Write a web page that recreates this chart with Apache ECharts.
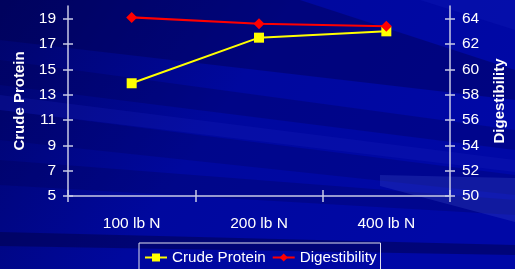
<!DOCTYPE html>
<html>
<head>
<meta charset="utf-8">
<script src="https://cdn.jsdelivr.net/npm/echarts@6/dist/echarts.min.js"></script>
<style>
html,body{margin:0;padding:0;background:#0006a0;}
#c{width:515px;height:269px;}
</style>
</head>
<body>
<div id="c"></div>
<script>
const categories = ['100 lb N', '200 lb N', '400 lb N'];
const crudeProtein = [13.9, 17.5, 18.0];
const digestibility = [64.1, 63.6, 63.4];
const leftTicks = [5, 7, 9, 11, 13, 15, 17, 19];
const rightTicks = [50, 52, 54, 56, 58, 60, 62, 64];
const leftAxisName = 'Crude Protein';
const rightAxisName = 'Digestibility';

const FONT = '"Liberation Sans", Arial, sans-serif';
const FS = 15.5;
const AXIS_COLOR = '#c8cae6';
const chart = echarts.init(document.getElementById('c'), null, {renderer: 'canvas'});

function streak(points, color, opacity) {
  return {type: 'polygon', silent: true, z: -10, shape: {points: points},
          style: {fill: color, opacity: opacity}};
}

const tickStyle = {color: AXIS_COLOR, width: 1.5};

const option = {
  animation: false,
  backgroundColor: {
    type: 'linear', x: 0, y: 0, x2: 0.8, y2: 1,
    colorStops: [
      {offset: 0, color: '#00046a'},
      {offset: 0.5, color: '#00089e'},
      {offset: 1, color: '#0008a6'}
    ]
  },
  graphic: [
    streak([[0,0],[300,0],[515,70],[515,100],[0,40]], '#00004a', 0.4),
    streak([[0,60],[515,130],[515,150],[0,85]], '#00004a', 0.28),
    streak([[0,110],[515,175],[515,195],[0,140]], '#00004a', 0.22),
    streak([[0,160],[515,200],[515,215],[0,185]], '#00004a', 0.25),
    streak([[0,232],[515,245],[515,255],[0,246]], '#000040', 0.45),
    streak([[0,95],[515,160],[515,172],[0,110]], '#1a24c0', 0.22),
    streak([[380,175],[515,178],[515,222],[380,186]], '#3848c8', 0.3),
    streak([[420,0],[515,0],[515,30]], '#0a14b0', 0.5)
  ],
  textStyle: {fontFamily: FONT},
  legend: {
    left: 139, top: 243,
    itemWidth: 22, itemHeight: 10, itemGap: 6,
    padding: [7, 4, 8, 5],
    borderColor: '#e0e0f0', borderWidth: 1,
    textStyle: {color: '#ffffff', fontSize: 15.2, fontFamily: FONT}
  },
  grid: {left: 68, right: 60, top: 6, bottom: 73, containLabel: false},
  xAxis: [
    {
      type: 'category', data: categories, boundaryGap: true,
      axisLine: {lineStyle: {color: AXIS_COLOR, width: 1.5}},
      axisTick: {show: false},
      axisLabel: {color: '#ffffff', fontSize: FS, margin: 20, fontFamily: FONT},
      splitLine: {show: false}
    },
    {
      type: 'category', data: categories, boundaryGap: true, position: 'bottom', offset: -6,
      axisLine: {show: false},
      axisTick: {show: true, length: 12, lineStyle: tickStyle},
      axisLabel: {show: false}, splitLine: {show: false}
    }
  ],
  yAxis: [
    {
      type: 'value', min: 5, max: 20, position: 'left',
      name: leftAxisName, nameLocation: 'middle', nameGap: 40, nameRotate: 90,
      nameTextStyle: {color: '#ffffff', fontSize: 15, fontWeight: 'bold', fontFamily: FONT},
      axisLine: {show: true, lineStyle: {color: AXIS_COLOR, width: 1.5}},
      axisTick: {show: false},
      axisLabel: {color: '#ffffff', fontSize: FS, margin: 12, fontFamily: FONT, customValues: leftTicks},
      splitLine: {show: false}
    },
    {
      type: 'value', min: 50, max: 65, position: 'right',
      name: rightAxisName, nameLocation: 'middle', nameGap: 42, nameRotate: 90,
      nameTextStyle: {color: '#ffffff', fontSize: 15, fontWeight: 'bold', fontFamily: FONT},
      axisLine: {show: true, lineStyle: {color: AXIS_COLOR, width: 1.5}},
      axisTick: {show: false},
      axisLabel: {color: '#ffffff', fontSize: FS, margin: 12, fontFamily: FONT, customValues: rightTicks},
      splitLine: {show: false}
    },
    {
      type: 'value', min: 5, max: 20, position: 'left', offset: -5,
      axisLine: {show: false},
      axisTick: {show: true, length: 10, lineStyle: tickStyle, customValues: leftTicks},
      axisLabel: {show: false}, splitLine: {show: false}
    },
    {
      type: 'value', min: 50, max: 65, position: 'right', offset: -5,
      axisLine: {show: false},
      axisTick: {show: true, length: 10, lineStyle: tickStyle, customValues: rightTicks},
      axisLabel: {show: false}, splitLine: {show: false}
    }
  ],
  series: [
    {
      name: 'Crude Protein', type: 'line', data: crudeProtein,
      xAxisIndex: 0, yAxisIndex: 0,
      symbol: 'rect', symbolSize: 10,
      lineStyle: {color: '#ffff00', width: 2},
      itemStyle: {color: '#ffff00'}
    },
    {
      name: 'Digestibility', type: 'line', data: digestibility,
      xAxisIndex: 0, yAxisIndex: 1,
      symbol: 'diamond', symbolSize: 11,
      lineStyle: {color: '#ff0000', width: 2.2},
      itemStyle: {color: '#ff0000'}
    }
  ]
};
chart.setOption(option);
</script>
</body>
</html>
